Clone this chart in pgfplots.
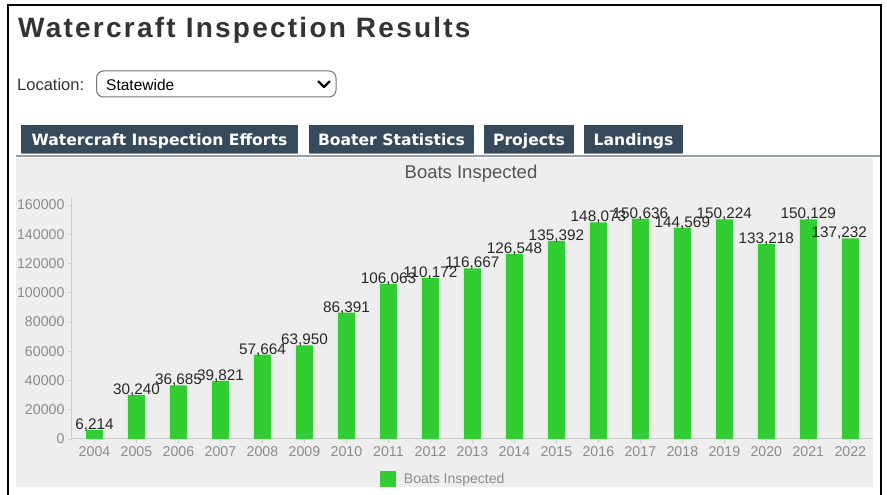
\documentclass[border=0pt]{standalone}
\usepackage{fontspec}
\setmainfont{Liberation Sans}
\newfontfamily\titlefont{Liberation Sans}[LetterSpace=8]
\newfontfamily\tabfont{DejaVu Sans}
\usepackage{pgfplots}
\pgfplotsset{compat=1.18}
\definecolor{barg}{RGB}{50,205,50}
\definecolor{bggray}{RGB}{238,238,238}
\definecolor{titlegray}{RGB}{51,51,51}
\definecolor{charttitle}{RGB}{85,85,85}
\definecolor{tabblue}{RGB}{55,74,91}
\definecolor{tabline}{RGB}{110,160,205}
\definecolor{linegray}{RGB}{150,158,170}
\definecolor{ddgray}{RGB}{118,118,118}
\definecolor{axgray}{RGB}{204,204,204}
\definecolor{tickgray}{RGB}{140,140,140}
\definecolor{labelgray}{RGB}{40,40,40}
\begin{document}
\begin{tikzpicture}
\useasboundingbox (0,0) rectangle (887pt,495pt);
\fill[white] (0,0) rectangle (887pt,495pt);
\fill[bggray] (16pt,8pt) rectangle (873pt,337pt);
\draw[black, line width=2.5pt] (8pt,0pt) -- (8pt,490pt) -- (881pt,490pt) -- (881pt,0pt);
% header
\node[anchor=base west, inner sep=0pt, text=titlegray, font=\titlefont\bfseries\fontsize{28}{32}\selectfont] at (18pt,457pt) {Watercraft Inspection Results};
\node[anchor=base west, inner sep=0pt, text=titlegray, font=\fontsize{16.5}{19}\selectfont] at (17pt,404pt) {Location:};
\draw[rounded corners=7pt, draw=ddgray, line width=1pt, fill=white] (96.5pt,398pt) rectangle (336pt,424pt);
\node[anchor=base west, inner sep=0pt, text=black, font=\fontsize{15.5}{18}\selectfont] at (106pt,404pt) {Statewide};
\draw[black, line width=2.2pt, line cap=round, line join=round] (318.5pt,413.5pt) -- (324pt,408pt) -- (329.5pt,413.5pt);
% tabs
\foreach \a/\b/\t in {21/298/Watercraft Inspection Efforts, 309/474/Boater Statistics, 484/574/Projects, 584/683/Landings}{
  \fill[tabblue] (\a pt,341pt) rectangle (\b pt,370pt);
  \draw[tabline, line width=1pt] (\a pt,341.5pt) -- (\b pt,341.5pt);
  \node[anchor=base, inner sep=0pt, text=white, font=\tabfont\bfseries\fontsize{15.6}{18}\selectfont] at ({(\a+\b)/2*1pt},349pt) {\t};
}
\draw[linegray, line width=2pt] (16pt,339pt) -- (880pt,339pt);
\node[anchor=base, inner sep=0pt, text=charttitle, font=\fontsize{18.5}{22}\selectfont] at (471pt,316pt) {Boats Inspected};
\begin{axis}[
  at={(72pt,56pt)}, anchor=south west, scale only axis,
  width=801pt, height=242pt,
  xmin=-0.536, xmax=18.54, ymin=0, ymax=165470,
  axis x line=bottom, axis y line=left,
  axis line style={draw=axgray, line width=1pt, -},
  ybar, bar width=17pt,
  xtick=data,
  xticklabels={2004,2005,2006,2007,2008,2009,2010,2011,2012,2013,2014,2015,2016,2017,2018,2019,2020,2021,2022},
  ytick={0,20000,40000,60000,80000,100000,120000,140000,160000},
  scaled y ticks=false,
  /pgf/number format/assume math mode=true,
  yticklabel={\pgfmathprintnumber[fixed,precision=0,1000 sep={}]{\tick}},
  tick style={draw=axgray, line width=0.8pt},
  tick align=outside, major tick length=4pt,
  ticklabel style={font=\fontsize{14.2}{16}\selectfont, text=tickgray},
  nodes near coords={\pgfmathprintnumber[fixed,precision=0,1000 sep={,}]{\pgfplotspointmeta}},
  every node near coord/.append style={anchor=base, inner sep=0pt, yshift=0.5pt, font=\fontsize{15.3}{18}\selectfont, text=labelgray},
  coordinate style/.condition={x==18}{xshift=-11pt},
  legend image code/.code={\fill[#1] (0pt,-8pt) rectangle (16pt,8pt);},
  legend style={at={(0.3845,-0.1653)}, anchor=west, draw=none, fill=none, inner sep=0pt, outer sep=0pt, font=\fontsize{14}{16}\selectfont, text=tickgray, nodes={inner sep=0pt}, column sep=8pt},
  clip=false,
]
\addplot[fill=barg, draw=none] coordinates {
  (0,6214) (1,30240) (2,36685) (3,39821) (4,57664) (5,63950) (6,86391)
  (7,106063) (8,110172) (9,116667) (10,126548) (11,135392) (12,148073)
  (13,150636) (14,144569) (15,150224) (16,133218) (17,150129) (18,137232)
};
\addlegendentry{Boats Inspected}
\end{axis}
\end{tikzpicture}
\end{document}
